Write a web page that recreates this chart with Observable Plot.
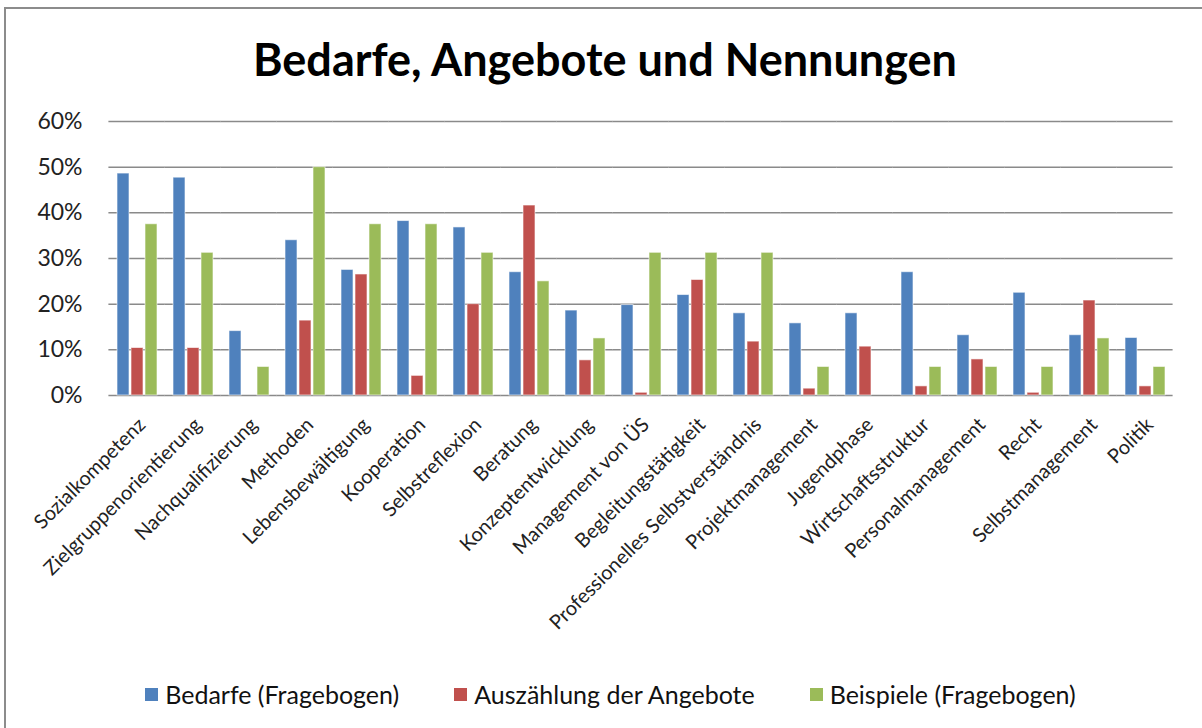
<!DOCTYPE html>
<html><head><meta charset="utf-8">
<script src="https://cdn.jsdelivr.net/npm/d3@7"></script>
<script src="https://cdn.jsdelivr.net/npm/@observablehq/plot@0.6"></script>
<style>
body{margin:0;background:#fff;font-family:Lato, sans-serif;}
#wrap{position:relative;width:1202px;height:728px;overflow:hidden;background:#fff;}
#frame{position:absolute;left:4px;top:7px;right:-10px;bottom:-10px;border-top:2px solid #8c8c8c;border-left:2px solid #8c8c8c;}
#title{position:absolute;left:0;width:1210px;top:32px;text-align:center;font-weight:bold;font-size:45px;color:#000;line-height:1.2;}
#chart{position:absolute;left:0;top:100px;}
#legend{position:absolute;top:679px;left:0;width:1221px;display:flex;justify-content:center;gap:55px;font-size:25px;color:#111;line-height:30px;}
#legend .item{display:flex;align-items:center;}
#legend .sw{width:13px;height:13px;margin-right:7px;}
</style></head>
<body>
<div id="wrap">
  <div id="frame"></div>
  <div id="title">Bedarfe, Angebote und Nennungen</div>
  <div id="chart"></div>
  <div id="legend"></div>
</div>
<script>
const categories = ["Sozialkompetenz","Zielgruppenorientierung","Nachqualifizierung","Methoden","Lebensbewältigung","Kooperation","Selbstreflexion","Beratung","Konzeptentwicklung","Management von ÜS","Begleitungstätigkeit","Professionelles Selbstverständnis","Projektmanagement","Jugendphase","Wirtschaftsstruktur","Personalmanagement","Recht","Selbstmanagement","Politik"];
const series = ["Bedarfe (Fragebogen)","Auszählung der Angebote","Beispiele (Fragebogen)"];
const colors = ["#4F81BD","#C0504D","#9BBB59"];
const bedarfe   = [0.486,0.477,0.141,0.340,0.275,0.382,0.368,0.270,0.186,0.198,0.220,0.180,0.158,0.180,0.270,0.132,0.225,0.132,0.126];
const angebote  = [0.104,0.104,0,0.164,0.265,0.043,0.200,0.416,0.077,0.006,0.253,0.118,0.015,0.107,0.020,0.079,0.006,0.208,0.020];
const beispiele = [0.375,0.3125,0.0625,0.50,0.375,0.375,0.3125,0.25,0.125,0.3125,0.3125,0.3125,0.0625,0,0.0625,0.0625,0.0625,0.125,0.0625];
const yTicks = [0,0.1,0.2,0.3,0.4,0.5,0.6];

const valuesBySeries = [bedarfe, angebote, beispiele];
const data = categories.flatMap((c,i) => series.map((s,j) => ({cat:c, s, v:valuesBySeries[j][i]}))).filter(d => d.v > 0);

const chart = Plot.plot({
  width:1202, height:560, marginTop:21, marginBottom:265, marginLeft:107, marginRight:27,
  style:{fontFamily:"Lato, sans-serif", color:"#222", background:"transparent", overflow:"visible"},
  fx:{domain:categories, paddingInner:0.26, paddingOuter:0.13, label:null},
  x:{domain:series, paddingInner:0.17, paddingOuter:0, axis:null},
  y:{domain:[0,0.6], label:null},
  color:{domain:series, range:colors},
  marks:[
    Plot.ruleY(yTicks, {stroke:"#8a8a8a", strokeWidth:1.5, insetLeft:-7.6, insetRight:-7.6}),
    Plot.barY(data, {fx:"cat", x:"s", y:"v", fill:"s", stroke:"#ffffff", strokeOpacity:0.6, strokeWidth:1}),
    Plot.axisY(yTicks, {tickFormat:d3.format(".0%"), tickSize:0, tickPadding:34, fontSize:23, label:null}),
    Plot.axisFx({anchor:"bottom", tickRotate:-45, tickSize:0, tickPadding:12, dx:5, dy:14, fontSize:20, label:null})
  ]
});
document.getElementById("chart").appendChild(chart);

const legend = document.getElementById("legend");
series.forEach((s,i) => {
  const item = document.createElement("div"); item.className = "item";
  const sw = document.createElement("span"); sw.className = "sw"; sw.style.background = colors[i];
  const t = document.createElement("span"); t.textContent = s;
  item.appendChild(sw); item.appendChild(t); legend.appendChild(item);
});
</script>
</body></html>
